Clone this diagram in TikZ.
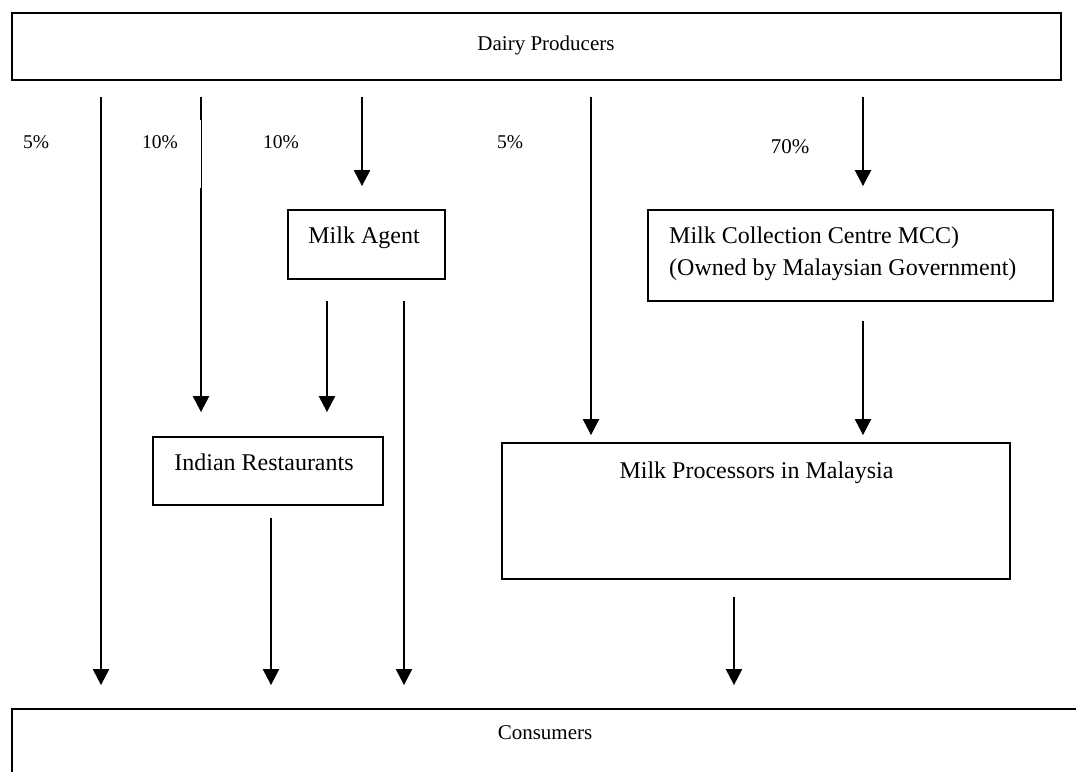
\documentclass[tikz,border=0pt]{standalone}
\usepackage{fontspec}
\setmainfont{Liberation Serif}
\usetikzlibrary{arrows.meta}
\begin{document}
\begin{tikzpicture}[x=1pt,y=-1pt,
  box/.style={draw=black,line width=1.8pt,rectangle,inner sep=0pt},
  boxtext/.style={inner sep=0pt,anchor=base,font=\fontsize{24}{32}\selectfont},
  pct/.style={inner sep=0pt,anchor=base,font=\fontsize{19.5}{24}\selectfont},
  arr/.style={line width=2.2pt,-{Triangle[width=16pt,length=16pt]}}
]
\useasboundingbox (0,0) rectangle (1076,771);
\clip (0,0) rectangle (1076,771);

% boxes, given by their corners
\node[box,minimum width=1049pt,minimum height=67.3pt] (dp)   at (536.5,46.35) {};
\node[box,minimum width=157pt,minimum height=69pt]    (ma)   at (366.5,244.5) {};
\node[box,minimum width=230pt,minimum height=68pt]    (ir)   at (268,471) {};
\node[box,minimum width=405pt,minimum height=91pt]    (mcc)  at (850.5,255.5) {};
\node[box,minimum width=508pt,minimum height=136pt]   (mp)   at (756,511) {};
\node[box,minimum width=1078pt,minimum height=90pt]   (cons) at (551,753.7) {};

% box texts
\node[boxtext,font=\fontsize{21}{26}\selectfont] (dpt) at (546,50) {Dairy Producers};
\node[boxtext] (mat) at (364,243) {Milk Agent};
\node[boxtext] (irt) at (264,470) {Indian Restaurants};
\node[boxtext,anchor=base west] (mcct) at (669,243) {Milk Collection Centre MCC)};
\node[boxtext,anchor=base west] (mcct2) at (669,275) {(Owned by Malaysian Government)};
\node[boxtext] (mpt) at (756.5,478) {Milk Processors in Malaysia};
\node[boxtext,font=\fontsize{21}{26}\selectfont] (const) at (545,739) {Consumers};

% share labels
\node[pct] (p1) at (36,148) {5\%};
\node[pct] (p2) at (160,148) {10\%};
\node[pct] (p3) at (281,148) {10\%};
\node[pct] (p4) at (510,148) {5\%};
\node[pct,font=\fontsize{21}{26}\selectfont] (p5) at (790,153) {70\%};

% x positions of the flow lines
\coordinate (x1) at (101,0);
\coordinate (x2) at (201,0);
\coordinate (x3) at (362,0);
\coordinate (x4) at (327,0);
\coordinate (x5) at (404,0);
\coordinate (x6) at (271,0);
\coordinate (x7) at (591,0);
\coordinate (x8) at (863,0);
\coordinate (x9) at (734,0);

% flows
\draw[arr,shorten <=16pt,shorten >=22.7pt] (dp.south -| x1) -- (cons.north -| x1);
\draw[arr,shorten <=16pt,shorten >=24pt]   (dp.south -| x2) -- (ir.north -| x2);
\draw[arr,shorten <=16pt,shorten >=23pt]   (dp.south -| x3) -- (ma.north -| x3);
\draw[arr,shorten <=21pt,shorten >=24pt]   (ma.south -| x4) -- (ir.north -| x4);
\draw[arr,shorten <=21pt,shorten >=22.7pt] (ma.south -| x5) -- (cons.north -| x5);
\draw[arr,shorten <=12pt,shorten >=22.7pt] (ir.south -| x6) -- (cons.north -| x6);
\draw[arr,shorten <=16pt,shorten >=7pt]    (dp.south -| x7) -- (mp.north -| x7);
\draw[arr,shorten <=16pt,shorten >=23pt]   (dp.south -| x8) -- (mcc.north -| x8);
\draw[arr,shorten <=19pt,shorten >=7pt]    (mcc.south -| x8) -- (mp.north -| x8);
\draw[arr,shorten <=17pt,shorten >=22.7pt] (mp.south -| x9) -- (cons.north -| x9);

% thinner stretch on the second line
\draw[white,line width=1.1pt] (200.2,120) -- (200.2,188);
\end{tikzpicture}
\end{document}
